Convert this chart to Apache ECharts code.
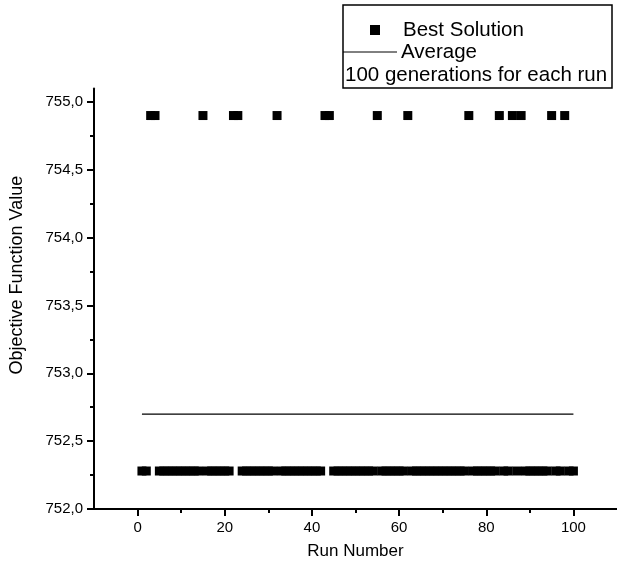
<!DOCTYPE html>
<html>
<head>
<meta charset="utf-8">
<script src="https://cdn.jsdelivr.net/npm/echarts@6/dist/echarts.min.js"></script>
<style>
  html, body { margin: 0; padding: 0; background: #fff; }
  #chart { width: 617px; height: 569px; }
</style>
</head>
<body>
<div id="chart"></div>
<script>
// Runs 1..100; each run ends at one of two objective values.
const runs = Array.from({ length: 100 }, (_, i) => i + 1);
const highRuns = [3, 4, 15, 22, 23, 32, 43, 44, 55, 62, 76, 83, 86, 88, 95, 98];
const highValue = 754.9;
const lowValue = 752.28;
const averageValue = 752.7;

const xTicks = [0, 20, 40, 60, 80, 100];
const xMinorTicks = [10, 30, 50, 70, 90];
const yTicks = [752.0, 752.5, 753.0, 753.5, 754.0, 754.5, 755.0];
const yMinorTicks = [752.25, 752.75, 753.25, 753.75, 754.25, 754.75];

const bestSolution = runs.map(r => [r, highRuns.includes(r) ? highValue : lowValue]);
const averageLine = [[1, averageValue], [100, averageValue]];

const FONT = 'Liberation Sans, Arial, sans-serif';
const comma = v => Number(v).toFixed(1).replace('.', ',');
const BLACK = '#000';

const chart = echarts.init(document.getElementById('chart'), null, { renderer: 'canvas' });

chart.setOption({
  animation: false,
  backgroundColor: '#ffffff',
  grid: { left: 93, right: 0, top: 88.4, bottom: 60, containLabel: false },
  xAxis: [
    {
      type: 'value', min: -10, max: 110,
      name: 'Run Number', nameLocation: 'middle', nameGap: 34,
      nameTextStyle: { fontFamily: FONT, fontSize: 17, color: BLACK },
      axisLine: { show: true, onZero: false, lineStyle: { color: BLACK, width: 2 } },
      axisTick: { show: true, length: 7, lineStyle: { color: BLACK, width: 2 }, customValues: xTicks },
      axisLabel: { show: true, color: BLACK, fontFamily: FONT, fontSize: 15, margin: 11, customValues: xTicks },
      splitLine: { show: false }
    },
    {
      // minor ticks between the labelled ones
      type: 'value', min: -10, max: 110, position: 'bottom',
      axisLine: { show: false, onZero: false },
      axisTick: { show: true, length: 4, lineStyle: { color: BLACK, width: 2 }, customValues: xMinorTicks },
      axisLabel: { show: false },
      splitLine: { show: false }
    }
  ],
  yAxis: [
    {
      type: 'value', min: 752, max: 755.1,
      name: 'Objective Function Value', nameLocation: 'middle', nameGap: 68,
      nameTextStyle: { fontFamily: FONT, fontSize: 18, color: BLACK, padding: [0, 0, 0, 47] },
      axisLine: { show: true, onZero: false, lineStyle: { color: BLACK, width: 2 } },
      axisTick: { show: true, length: 7, lineStyle: { color: BLACK, width: 2 }, customValues: yTicks },
      axisLabel: { show: true, color: BLACK, fontFamily: FONT, fontSize: 15, margin: 11, customValues: yTicks, formatter: comma },
      splitLine: { show: false }
    },
    {
      type: 'value', min: 752, max: 755.1, position: 'left',
      axisLine: { show: false, onZero: false },
      axisTick: { show: true, length: 4, lineStyle: { color: BLACK, width: 2 }, customValues: yMinorTicks },
      axisLabel: { show: false },
      splitLine: { show: false }
    }
  ],
  series: [
    {
      name: 'Best Solution', type: 'scatter', xAxisIndex: 0, yAxisIndex: 0,
      symbol: 'rect', symbolSize: [9, 9],
      itemStyle: { color: BLACK, opacity: 1, borderWidth: 0 },
      data: bestSolution
    },
    {
      name: 'Average', type: 'line', xAxisIndex: 0, yAxisIndex: 0,
      symbol: 'none',
      lineStyle: { color: BLACK, width: 1.2 },
      data: averageLine
    }
  ],
  graphic: [
    { type: 'rect', shape: { x: 343, y: 5, width: 269, height: 83 },
      style: { fill: '#fff', stroke: BLACK, lineWidth: 1.5 } },
    { type: 'rect', shape: { x: 370, y: 25, width: 10, height: 10 }, style: { fill: BLACK } },
    { type: 'text', x: 403, y: 30, style: { text: 'Best Solution', font: '20.5px ' + FONT, fill: BLACK, verticalAlign: 'middle' } },
    { type: 'line', shape: { x1: 343, y1: 52, x2: 397, y2: 52 }, style: { stroke: BLACK, lineWidth: 1 } },
    { type: 'text', x: 401, y: 52, style: { text: 'Average', font: '20.5px ' + FONT, fill: BLACK, verticalAlign: 'middle' } },
    { type: 'text', x: 345, y: 75, style: { text: '100 generations for each run', font: '20.5px ' + FONT, fill: BLACK, verticalAlign: 'middle' } }
  ]
});
</script>
</body>
</html>
